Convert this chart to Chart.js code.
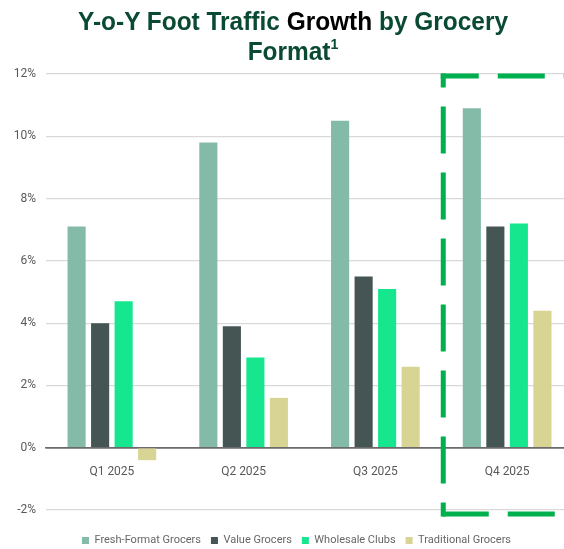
<!DOCTYPE html>
<html>
<head>
<meta charset="utf-8">
<script src="https://cdn.jsdelivr.net/npm/chart.js@4.4.1/dist/chart.umd.min.js"></script>
<style>
    html, body { margin: 0; padding: 0; background: #fff; overflow: hidden; }
    #wrap { position: relative; width: 564px; height: 549px; overflow: hidden; }
    #chart { position: absolute; left: 0; top: 0; }
    #title {
        position: absolute; left: 0; top: 6px; width: 586px;
        text-align: center; font-family: 'Liberation Sans', Arial, sans-serif;
        font-weight: bold; font-size: 26px; line-height: 30px; color: #0B4A32;
        transform: scaleX(0.94); transform-origin: 293px 0;
    }
    #title .dark { color: #000; }
    #title sup { font-size: 15px; line-height: 0; vertical-align: 11px; }
</style>
</head>
<body>
<div id="wrap">
    <canvas id="chart" width="576" height="549"></canvas>
    <div id="title">Y-o-Y Foot Traffic <span class="dark">Growth</span> by Grocery<br>Format<sup>1</sup></div>
</div>
<script>
// data
const quarters = ['Q1 2025', 'Q2 2025', 'Q3 2025', 'Q4 2025'];
const freshFormat = [7.1, 9.8, 10.5, 10.9];
const valueGrocers = [4.0, 3.9, 5.5, 7.1];
const wholesaleClubs = [4.7, 2.9, 5.1, 7.2];
const traditionalGrocers = [-0.4, 1.6, 2.6, 4.4];
const yTicks = [-2, 0, 2, 4, 6, 8, 10, 12];
const highlightIndex = 3; // Q4 2025

const labelFont = "Roboto, 'Liberation Sans', sans-serif";

// dashed green box round the highlighted quarter
const highlightBox = {
    id: 'highlightBox',
    afterDatasetsDraw(chart) {
        const x = chart.scales.x, y = chart.scales.y;
        const left = (x.getPixelForValue(highlightIndex - 1) + x.getPixelForValue(highlightIndex)) / 2 + 2;
        const top = y.getPixelForValue(yTicks[yTicks.length - 1]) + 2;
        const bottom = y.getPixelForValue(yTicks[0]) + 4;
        const right = chart.width + 10;
        const ctx = chart.ctx;
        ctx.save();
        ctx.strokeStyle = '#00B04F';
        ctx.lineWidth = 5;
        ctx.lineCap = 'butt';
        ctx.setLineDash([47, 19]);

        ctx.lineDashOffset = 33;
        ctx.beginPath(); ctx.moveTo(left, top - 2.5); ctx.lineTo(left, bottom + 2.5); ctx.stroke();

        ctx.lineDashOffset = 9;
        ctx.beginPath(); ctx.moveTo(left - 2.5, top); ctx.lineTo(right, top); ctx.stroke();

        ctx.lineDashOffset = -1;
        ctx.beginPath(); ctx.moveTo(left - 2.5, bottom); ctx.lineTo(right, bottom); ctx.stroke();
        ctx.restore();
    }
};

// push the legend a little lower and to the right, as in the original
const legendShift = {
    id: 'legendShift',
    afterLayout(chart) {
        const lg = chart.legend;
        lg.top += 15; lg.bottom += 15;
        lg.left += 4; lg.right += 4;
    }
};

new Chart(document.getElementById('chart'), {
    type: 'bar',
    data: {
        labels: quarters,
        datasets: [
            { label: 'Fresh-Format Grocers', data: freshFormat, backgroundColor: '#84BAA8' },
            { label: 'Value Grocers', data: valueGrocers, backgroundColor: '#445553' },
            { label: 'Wholesale Clubs', data: wholesaleClubs, backgroundColor: '#16E78E' },
            { label: 'Traditional Grocers', data: traditionalGrocers, backgroundColor: '#D8D493' }
        ]
    },
    options: {
        responsive: false,
        animation: false,
        devicePixelRatio: 1,
        datasets: {
            bar: { categoryPercentage: 0.714, barPercentage: 0.77 }
        },
        layout: { padding: { top: 74, left: 12, right: 3, bottom: 8 } },
        plugins: {
            legend: {
                position: 'bottom',
                labels: {
                    boxWidth: 7,
                    boxHeight: 7,
                    padding: 10,
                    color: '#666',
                    font: { family: labelFont, size: 11 }
                }
            },
            tooltip: { enabled: false }
        },
        scales: {
            x: {
                position: { y: 0 },
                grid: { display: false, drawTicks: false },
                border: { color: '#6b6b6b', width: 1.5 },
                ticks: {
                    padding: 17,
                    color: '#595959',
                    font: { family: labelFont, size: 12 }
                }
            },
            y: {
                min: yTicks[0],
                max: yTicks[yTicks.length - 1],
                afterFit: s => { s.width = 34; },
                afterBuildTicks: s => { s.ticks = yTicks.map(v => ({ value: v })); },
                border: { display: false },
                grid: {
                    drawTicks: false,
                    color: c => c.tick.value === 0 ? '#6b6b6b' : '#d9d9d9',
                    lineWidth: c => c.tick.value === 0 ? 1.5 : 1.2
                },
                ticks: {
                    padding: 10,
                    color: '#595959',
                    font: { family: labelFont, size: 12 },
                    callback: v => v + '%'
                }
            }
        }
    },
    plugins: [highlightBox, legendShift]
});
</script>
</body>
</html>
